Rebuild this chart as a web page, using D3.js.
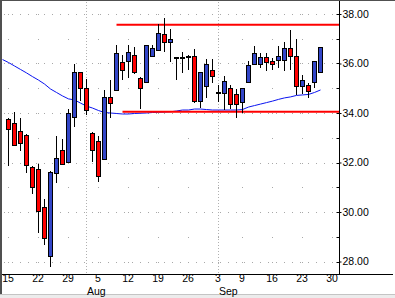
<!DOCTYPE html>
<html><head><meta charset="utf-8">
<script src="https://cdn.jsdelivr.net/npm/d3@7"></script>
<style>
html,body{margin:0;padding:0;background:#fff;overflow:hidden;}
svg{display:block;}
text{font-family:"Liberation Sans",Arial,sans-serif;font-size:10.5px;fill:#000;}
</style></head><body>
<svg id="chart" width="395" height="298"></svg>
<script>
// ---- data ----
const dates = ["Jul 15","Jul 16","Jul 17","Jul 18","Jul 19","Jul 22","Jul 23","Jul 24","Jul 25","Jul 26","Jul 29","Jul 30","Jul 31",
  "Aug 1","Aug 2","Aug 5","Aug 6","Aug 7","Aug 8","Aug 9","Aug 12","Aug 13","Aug 14","Aug 15","Aug 16","Aug 19","Aug 20","Aug 21","Aug 22","Aug 23","Aug 26","Aug 27","Aug 28","Aug 29","Aug 30",
  "Sep 3","Sep 4","Sep 5","Sep 6","Sep 9","Sep 10","Sep 11","Sep 12","Sep 13","Sep 16","Sep 17","Sep 18","Sep 19","Sep 20","Sep 23","Sep 24","Sep 25","Sep 26"];
const open  = [33.76,33.58,33.26,33.11,31.82,31.73,30.19,28.21,31.59,32.51,32.01,33.83,35.64,
  35.00,33.18,32.87,32.13,34.66,34.93,36.08,36.11,36.33,35.40,35.24,36.30,36.53,37.18,36.88,36.25,36.22,36.32,36.32,34.48,35.11,35.73,
  34.85,34.80,35.00,34.77,34.43,35.24,35.97,35.97,36.26,36.10,36.14,36.16,36.61,36.30,35.10,35.13,35.24,35.67];
const high  = [33.80,34.04,33.81,33.15,31.84,31.93,30.51,31.67,33.07,32.95,34.16,35.99,35.66,
  35.36,33.22,33.07,34.93,35.33,36.76,36.34,36.75,36.65,35.45,36.76,36.75,37.60,37.82,37.39,36.26,36.47,36.36,36.57,35.66,36.17,36.17,
  35.13,35.51,35.13,34.97,35.00,36.12,36.71,36.44,36.44,36.24,36.71,36.87,37.35,36.99,35.54,35.22,36.10,36.66];
const low   = [31.87,32.67,32.48,31.59,30.74,29.14,28.67,27.79,31.18,31.93,31.98,33.45,34.48,
  33.91,32.01,31.22,32.10,33.80,34.90,35.33,35.40,35.58,34.17,35.22,36.28,36.52,36.46,36.06,35.33,35.60,35.74,34.42,34.20,34.59,35.20,
  34.46,34.12,34.15,33.79,33.99,35.22,35.95,35.82,35.71,35.74,35.80,35.71,35.72,34.74,34.76,34.59,35.00,35.66];
const close = [33.34,32.69,32.78,31.89,31.00,30.03,28.94,31.63,32.17,31.95,33.99,35.64,35.00,
  34.11,32.49,31.45,34.63,34.39,36.41,35.75,36.48,35.64,35.00,36.75,36.61,37.23,36.86,36.99,36.23,36.27,36.30,34.47,35.66,35.98,35.50,
  34.83,35.29,34.35,34.35,35.00,35.93,36.41,36.26,36.07,35.98,36.30,36.63,36.31,35.10,35.33,34.90,36.10,36.65];
// moving average, starting one session earlier (Jul 12)
const maDates = ["Jul 12"].concat(dates);
const ma = [36.16,36.04,35.90,35.76,35.62,35.47,35.33,35.17,34.97,34.83,34.69,34.57,34.53,34.40,34.28,34.20,34.10,34.02,34.00,33.98,
  33.96,33.96,33.98,33.99,34.00,34.02,34.03,34.04,34.05,34.08,34.12,34.12,34.16,34.16,34.14,34.12,34.12,34.12,34.12,34.12,
  34.14,34.24,34.30,34.36,34.42,34.48,34.55,34.61,34.65,34.71,34.73,34.75,34.83,34.93];
const futureDates = ["Sep 27","Sep 30"];
const weekTicks = ["Jul 15","Jul 22","Jul 29","Aug 5","Aug 12","Aug 19","Aug 26","Sep 3","Sep 9","Sep 16","Sep 23","Sep 30"];
const monthStarts = ["Aug 1","Sep 3"];
const monthLabels = ["Aug","Sep"];
const priceTicks = [28,30,32,34,36,38];
const gridPrices = [28,29,30,31,32,33,34,35,36,37,38];
const levelPrices = [37.57,34.05];
const levelStarts = ["Aug 8","Aug 9"];

// ---- layout ----
const W = 395, H = 298;
const plotL = 2, plotR = 339.5, plotT = 1, plotB = 274.5;
const svg = d3.select("#chart");

const allDates = ["Jul 12"].concat(dates, futureDates);
const x = d3.scalePoint().domain(allDates).range([2.5, 332.5]);
const y = d3.scaleLinear().domain([28,38]).range([261.5,14]);

svg.append("rect").attr("width",W).attr("height",H).attr("fill","#fff");
svg.append("rect").attr("x",0).attr("y",294).attr("width",W).attr("height",4).attr("fill","#ececec");
svg.append("rect").attr("x",0).attr("y",294).attr("width",W).attr("height",1).attr("fill","#c4c4c4");

svg.append("defs").append("clipPath").attr("id","plotclip")
  .append("rect").attr("x",plotL).attr("y",plotT).attr("width",plotR-plotL).attr("height",plotB-plotT);

const grid = svg.append("g");
grid.selectAll("line.h").data(priceTicks).join("line")
  .attr("x1",plotL+2).attr("x2",plotR-1)
  .attr("y1",d=>Math.round(y(d))+0.5).attr("y2",d=>Math.round(y(d))+0.5)
  .attr("stroke","#a8a8a8").attr("stroke-dasharray","1,7");
const dots = [];
weekTicks.forEach(w=>gridPrices.forEach(p=>dots.push([w,p])));
grid.selectAll("rect.d").data(dots).join("rect")
  .attr("x",d=>x(d[0])-0.5).attr("y",d=>Math.round(y(d[1])))
  .attr("width",1).attr("height",1).attr("fill","#a8a8a8");
grid.selectAll("line.m").data(monthStarts).join("line")
  .attr("x1",d=>x(d)).attr("x2",d=>x(d)).attr("y1",plotT+1).attr("y2",plotB)
  .attr("stroke","#b0b0b0").attr("stroke-dasharray","1,2");

const plot = svg.append("g").attr("clip-path","url(#plotclip)");

const maLine = d3.line().x((d,i)=>x(maDates[i])).y(d=>y(d));
plot.append("path").datum(ma).attr("d",maLine)
  .attr("fill","none").attr("stroke","#0a14f0").attr("stroke-width",1);

plot.selectAll("line.lv").data(levelPrices).join("line")
  .attr("x1",(d,i)=>x(levelStarts[i])).attr("x2",plotR)
  .attr("y1",d=>y(d)).attr("y2",d=>y(d))
  .attr("stroke","#ff0000").attr("stroke-width",2);

const idx = d3.range(dates.length);
const cg = plot.selectAll("g.c").data(idx).join("g");
cg.append("line")
  .attr("x1",i=>x(dates[i])).attr("x2",i=>x(dates[i]))
  .attr("y1",i=>Math.round(y(high[i]))).attr("y2",i=>Math.round(y(low[i])))
  .attr("stroke","#000").attr("stroke-width",1);
cg.append("rect")
  .attr("x",i=>x(dates[i])-2)
  .attr("y",i=>Math.round(y(Math.max(open[i],close[i])))+0.5)
  .attr("width",4)
  .attr("height",i=>Math.max(1,Math.round(y(Math.min(open[i],close[i])))-Math.round(y(Math.max(open[i],close[i])))))
  .attr("fill",i=>close[i]>=open[i]?"#3346c8":"#ff0000")
  .attr("stroke","#000").attr("stroke-width",1);

const yAxis = d3.axisRight(y).tickValues(priceTicks).tickFormat(d3.format(".2f")).tickSize(2).tickPadding(1);
const ya = svg.append("g").attr("transform",`translate(${plotR},0)`).call(yAxis);
ya.select(".domain").remove();
ya.selectAll("line").attr("stroke","#000");
ya.selectAll("text").attr("font-size",null).attr("font-family",null).attr("fill","#000");
svg.selectAll("line.mt").data(gridPrices).join("line")
  .attr("x1",plotR-3).attr("x2",plotR)
  .attr("y1",d=>Math.round(y(d))+0.5).attr("y2",d=>Math.round(y(d))+0.5)
  .attr("stroke","#000");
svg.append("line").attr("x1",plotR).attr("x2",plotR).attr("y1",0).attr("y2",plotB)
  .attr("stroke","#000");

const xAxis = d3.axisBottom(x).tickValues(weekTicks).tickFormat(d=>d.split(" ")[1]).tickSize(0).tickPadding(2);
const xa = svg.append("g").attr("transform",`translate(0,${plotB})`).call(xAxis);
xa.select(".domain").remove();
xa.selectAll("text").attr("font-size",null).attr("font-family",null).attr("fill","#000")
  .attr("y",0.5)
  .attr("x",d=>Math.max(-1, 5.5 - x(d)));
svg.append("line").attr("x1",0).attr("x2",393).attr("y1",plotB).attr("y2",plotB).attr("stroke","#000");
svg.selectAll("text.month").data(monthStarts).join("text")
  .attr("x",d=>x(d)+0.5).attr("y",294.5).text((d,i)=>monthLabels[i]);

svg.append("rect").attr("x",0).attr("y",0).attr("width",W).attr("height",1).attr("fill","#505050");
svg.append("rect").attr("x",0).attr("y",0).attr("width",2).attr("height",294).attr("fill","#505050");
</script>
</body></html>
